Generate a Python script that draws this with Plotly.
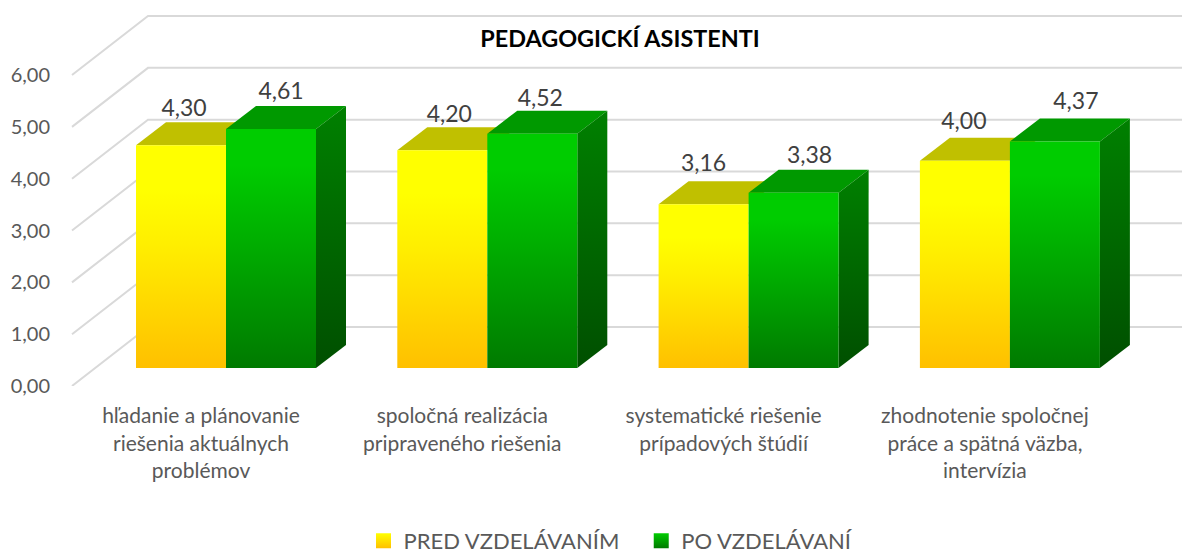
import plotly.graph_objects as go

categories = ["hľadanie a plánovanie<br>riešenia aktuálnych<br>problémov",
              "spoločná realizácia<br>pripraveného riešenia",
              "systematické riešenie<br>prípadových štúdií",
              "zhodnotenie spoločnej<br>práce a spätná väzba,<br>intervízia"]
pred = [4.30, 4.20, 3.16, 4.00]
po = [4.61, 4.52, 3.38, 4.37]
series_names = ["PRED VZDELÁVANÍM\u00a0\u00a0\u00a0", "PO VZDELÁVANÍ"]
title = "PEDAGOGICKÍ ASISTENTI"
y_ticks = [0, 1, 2, 3, 4, 5, 6]

# pixel calibration of the fake 3-D projection
W, H = 1182, 556
PX_X = 261.3
PX_Y = 51.83
ML, MB = 58, 170
X0_PX = 226          # px of group 0 centre
BAR = 90 / PX_X
DX, DY = 30 / PX_X, 23 / PX_Y
FLOOR = 18 / PX_Y
WALL_L = (72 - X0_PX) / PX_X
WALL_B = (148 - X0_PX) / PX_X
WALL_R = (W - X0_PX) / PX_X
WALL_DY = 59 / PX_Y
LABEL_OFF = -25 / PX_X

# label nudges (px) measured per label
pred_lab = [(3, 12), (7, 11), (0, 16), (-1, 14)]
po_lab = [(10, 13), (8, 10), (16, 13), (21, 15)]

YEL = [[0, "#FFC000"], [0.55, "#FFEE00"], [0.8, "#FFFF00"], [1, "#FFFF00"]]
GRN = [[0, "#007A00"], [0.55, "#00B000"], [0.85, "#00CC00"], [1, "#00CC00"]]
GRN_S = [[0, "#004F00"], [1, "#008000"]]

fig = go.Figure()

# walls / gridlines
for v in y_ticks:
    fig.add_trace(go.Scatter(
        x=[WALL_L, WALL_B, WALL_R], y=[v, v + WALL_DY, v + WALL_DY], mode="lines",
        line=dict(color="#D9D9D9", width=2), showlegend=False, hoverinfo="skip"))


def poly(xs, ys, color=None, grad=None):
    kw = dict(fillcolor=color) if color else dict(
        fillgradient=dict(type="vertical", colorscale=grad, start=min(ys), stop=max(ys)))
    fig.add_trace(go.Scatter(x=xs, y=ys, mode="lines", fill="toself", line=dict(width=0),
                             showlegend=False, hoverinfo="skip", **kw))


def bar(x0, v, front, top, side=None, side_grad=None):
    x1 = x0 + BAR
    b, t = FLOOR, FLOOR + v
    poly([x0, x0 + DX, x1 + DX, x1, x0], [t, t + DY, t + DY, t, t], color=top)
    if side_grad:
        poly([x1, x1 + DX, x1 + DX, x1, x1], [b, b + DY, t + DY, t, b], grad=side_grad)
    poly([x0, x1, x1, x0, x0], [b, b, t, t, b], grad=front)


for i in range(len(categories)):
    bar(i - BAR, pred[i], YEL, "#C0C000")
for i in range(len(categories)):
    bar(i, po[i], GRN, "#009900", side_grad=GRN_S)

# data labels
for vals, offs, shift in ((pred, pred_lab, -BAR), (po, po_lab, 0)):
    fig.add_trace(go.Scatter(
        x=[i + shift + BAR / 2 + offs[i][0] / PX_X for i in range(len(vals))],
        y=[FLOOR + v + DY + offs[i][1] / PX_Y for i, v in enumerate(vals)],
        mode="text", text=[f"{v:.2f}".replace(".", ",") for v in vals],
        textposition="middle center", textfont=dict(family="Lato", size=23, color="#404040"),
        showlegend=False, hoverinfo="skip"))

# legend entries
for name, c1, c2 in ((series_names[0], "#FFFF00", "#FFC000"), (series_names[1], "#00CC00", "#007A00")):
    fig.add_trace(go.Scatter(x=[None], y=[None], mode="markers", name=name,
                             marker=dict(symbol="square", size=15, color=c1,
                                         gradient=dict(type="vertical", color=c2))))

fig.update_layout(
    width=W, height=H, autosize=False, paper_bgcolor="white", plot_bgcolor="white",
    margin=dict(l=ML, r=0, t=0, b=MB), separators=", ",
    title=dict(text=f"<b>{title}</b>", x=620 / W, y=1 - 39 / H, xanchor="center", yanchor="middle",
               font=dict(family="Lato", size=23.4, color="#000000")),
    legend=dict(orientation="h", x=(611 - ML) / (W - ML), xanchor="center", yref="container",
                y=(H - 541) / H, yanchor="middle", font=dict(family="Lato", size=22, color="#595959"),
                itemwidth=30, bgcolor="rgba(0,0,0,0)"),
    xaxis=dict(range=[(ML - X0_PX) / PX_X, WALL_R], showgrid=False, zeroline=False, showline=False,
               tickmode="array", tickvals=[i + LABEL_OFF for i in range(len(categories))], ticktext=categories,
               ticks="outside", ticklen=11, tickcolor="rgba(0,0,0,0)", tickangle=0,
               tickfont=dict(family="Lato", size=21, color="#595959")),
    yaxis=dict(range=[0, (H - MB) / PX_Y], showgrid=False, zeroline=False, showline=False,
               tickmode="array", tickvals=y_ticks, tickformat=".2f",
               ticks="outside", ticklen=3, tickcolor="rgba(0,0,0,0)",
               tickfont=dict(family="Lato", size=20, color="#595959")),
)
fig.write_html("out.html", config=dict(displayModeBar=False),
               post_script="document.body.style.margin='0';")
